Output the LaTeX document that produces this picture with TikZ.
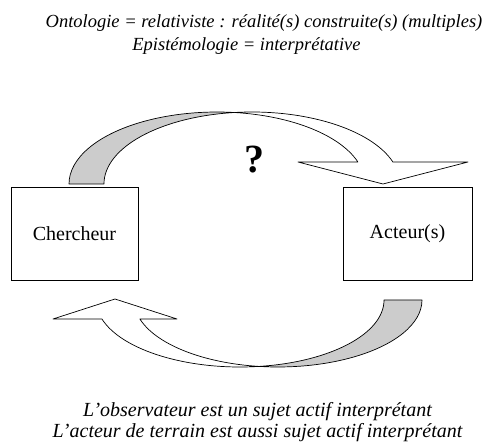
\documentclass[tikz,border=0pt]{standalone}
\usepackage{fontspec}
\setmainfont{Liberation Serif}
\usetikzlibrary{positioning}
\definecolor{backgray}{RGB}{204,204,204}
\tikzset{>=latex}

\begin{document}
\begin{tikzpicture}[x=1pt, y=-1pt,
	box/.style={draw=black, line width=0.8pt, minimum height=93pt, font=\fontsize{20}{24}\selectfont},
	band/.style={draw=black, line width=0.7pt, line join=round},
	caption/.style={anchor=base, font=\itshape}]

	\useasboundingbox (0,0) rectangle (485,446);

	\node (ontologie) [caption] at (264,28) {\fontsize{18.5}{22}\selectfont Ontologie = relativiste : réalité(s) construite(s) (multiples)};
	\node (epistemologie) [caption] at (246.5,51) {\fontsize{18.5}{22}\selectfont Epistémologie = interprétative};

	\node (chercheur-box) [box, minimum width=127pt] at (74.5,233.5) {Chercheur};
	\node (acteur-box) [box, minimum width=129pt] at (407.5,233.5) {Acteur(s)};

	\node (question) at (254,160) {\fontsize{40}{40}\selectfont\bfseries ?};

	\coordinate (top-tail) at (69,184);
	\draw[band, fill=backgray] (top-tail) arc[start angle=180, end angle=276.79, x radius=148, y radius=72] coordinate (top-cross)
		arc[start angle=263.21, end angle=180, x radius=148, y radius=72] -- cycle;
	\draw[band, fill=white] (top-cross) arc[start angle=263.21, end angle=342.21, x radius=148, y radius=72]
		-- (468,162) -- (383,184) -- (298,162) -- (357.9,162)
		arc[start angle=342.21, end angle=276.79, x radius=148, y radius=72] -- cycle;

	\coordinate (bottom-tail) at (422,300);
	\draw[band, fill=backgray] (bottom-tail) arc[start angle=0, end angle=97.58, x radius=144, y radius=67] coordinate (bottom-cross)
		arc[start angle=82.42, end angle=0, x radius=144, y radius=67] -- cycle;
	\draw[band, fill=white] (bottom-cross) arc[start angle=82.42, end angle=163.53, x radius=144, y radius=67]
		-- (53,319) -- (115,299) -- (177,319) -- (139.9,319)
		arc[start angle=163.53, end angle=97.58, x radius=144, y radius=67] -- cycle;

	\node (observateur) [caption] at (257.5,417) {\fontsize{20}{24}\selectfont L’observateur est un sujet actif interprétant};
	\node (acteur-terrain) [caption] at (257.5,438) {\fontsize{20}{24}\selectfont L’acteur de terrain est aussi sujet actif interprétant};

\end{tikzpicture}
\end{document}
